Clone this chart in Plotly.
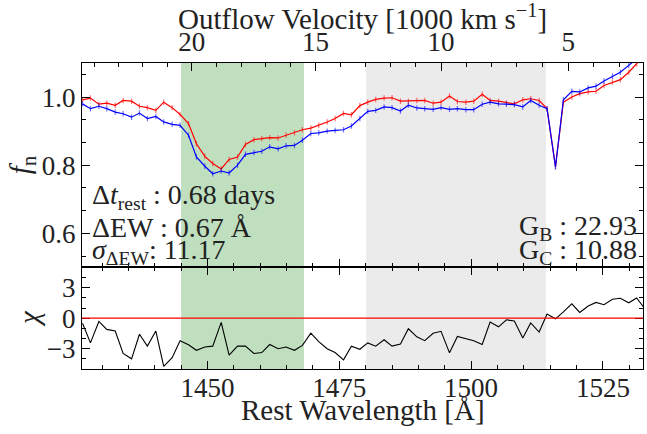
import plotly.graph_objects as go

# ---------------- data ----------------
wavelength = [1426.3, 1427.8, 1429.4, 1430.9, 1432.5, 1434.0, 1435.6, 1437.1, 1438.6, 1440.2,
              1441.7, 1443.3, 1444.8, 1446.4, 1447.9, 1449.5, 1451.0, 1452.6, 1454.1, 1455.7,
              1457.2, 1458.8, 1460.3, 1461.8, 1463.4, 1464.9, 1466.5, 1468.0, 1469.6, 1471.1,
              1472.7, 1474.2, 1475.8, 1477.3, 1478.9, 1480.4, 1481.9, 1483.5, 1485.0, 1486.6,
              1488.1, 1489.7, 1491.2, 1492.8, 1494.3, 1495.9, 1497.4, 1499.0, 1500.5, 1502.1,
              1503.6, 1505.2, 1506.7, 1508.2, 1509.8, 1511.3, 1512.9, 1514.4, 1516.0, 1517.5,
              1519.1, 1520.6, 1522.2, 1523.7, 1525.2, 1526.8, 1528.3, 1529.9, 1531.4, 1533.0]

flux_red = [0.992, 0.997, 0.979, 0.982, 0.976, 0.990, 0.988, 0.973, 0.969, 0.961,
            0.985, 0.969, 0.949, 0.922, 0.863, 0.826, 0.805, 0.789, 0.817, 0.824,
            0.861, 0.875, 0.878, 0.881, 0.880, 0.888, 0.895, 0.904, 0.909, 0.917,
            0.927, 0.937, 0.952, 0.948, 0.975, 0.985, 0.993, 0.997, 0.998, 0.988,
            0.988, 0.990, 0.990, 0.982, 0.985, 1.003, 0.987, 0.985, 0.988, 1.008,
            0.990, 0.988, 0.983, 0.980, 0.992, 0.995, 0.990, 0.966, 0.796, 0.985,
            1.000, 1.010, 1.015, 1.017, 1.034, 1.044, 1.051, 1.073, 1.098, 1.125]

flux_blue = [0.980, 0.966, 0.973, 0.966, 0.956, 0.951, 0.941, 0.953, 0.937, 0.943,
             0.927, 0.920, 0.917, 0.888, 0.824, 0.797, 0.775, 0.783, 0.777, 0.800,
             0.832, 0.837, 0.841, 0.854, 0.848, 0.857, 0.858, 0.873, 0.893, 0.895,
             0.900, 0.902, 0.904, 0.915, 0.937, 0.958, 0.961, 0.971, 0.969, 0.959,
             0.976, 0.968, 0.966, 0.964, 0.969, 0.964, 0.966, 0.963, 0.963, 0.979,
             0.985, 0.980, 0.979, 0.978, 0.971, 0.990, 0.976, 0.966, 0.795, 0.992,
             1.017, 1.015, 1.027, 1.032, 1.047, 1.061, 1.073, 1.093, 1.112, 1.140]

flux_err = 0.008

chi = [-0.5, -2.43, -0.32, -1.10, -1.26, -3.47, -4.00, -1.58, -2.75, -1.26,
       -4.74, -3.88, -2.21, -2.62, -3.16, -2.84, -2.75, -0.41, -3.63, -2.75,
       -2.75, -3.47, -3.38, -2.59, -3.00, -2.84, -3.16, -2.68, -1.48, -2.30,
       -3.00, -3.38, -4.10, -2.75, -3.06, -2.43, -2.75, -2.12, -2.75, -2.53,
       -1.04, -1.83, -2.21, -1.48, -1.29, -3.41, -1.80, -2.00, -2.21, -2.59,
       -0.38, -0.85, -0.16, -0.28, -1.96, -0.47, -1.36, 0.41, -0.06, 0.63,
       1.42, 0.57, 1.20, 1.55, 1.33, 1.86, 1.96, 1.52, 1.99, 0.90]

green_band = [1445.0, 1468.3]
gray_band = [1480.1, 1514.2]

wave_ticks = [1450, 1475, 1500, 1525]
flux_ticks = [0.6, 0.8, 1.0]
flux_ticklabels = ["0.6", "0.8", "1.0"]
chi_ticks = [-3, 0, 3]
chi_ticklabels = ["\u22123", "0", "3"]

# outflow velocity (1000 km/s) and where each lands on the wavelength axis
vel_major = [20, 15, 10, 5]
vel_major_wave = [1447.0, 1470.5, 1494.3, 1518.4]
vel_minor = [24, 23, 22, 21, 19, 18, 17, 16, 14, 13, 12, 11, 9, 8, 7, 6, 4, 3]
vel_minor_wave = [1428.5, 1433.1, 1437.7, 1442.4, 1451.7, 1456.4, 1461.0, 1465.8,
                  1475.2, 1479.9, 1484.7, 1489.5, 1499.1, 1503.9, 1508.7, 1513.6,
                  1523.3, 1528.2]

x_range = [1426.2, 1532.6]

FONT = "Liberation Serif, Times New Roman, serif"
TXT = "#222222"

fig = go.Figure()

# spectra (top panel)
fig.add_trace(go.Scatter(
    x=wavelength, y=flux_red, mode="lines", xaxis="x2", yaxis="y2",
    line=dict(color="#ff0000", width=1.2),
    error_y=dict(type="constant", value=flux_err, width=0, thickness=1.2,
                 color="rgba(255,0,0,0.55)"),
    showlegend=False, hoverinfo="skip"))
fig.add_trace(go.Scatter(
    x=wavelength, y=flux_blue, mode="lines", xaxis="x2", yaxis="y2",
    line=dict(color="#0000ff", width=1.2),
    error_y=dict(type="constant", value=flux_err, width=0, thickness=1.2,
                 color="rgba(0,0,255,0.55)"),
    showlegend=False, hoverinfo="skip"))

# chi (bottom panel)
fig.add_trace(go.Scatter(
    x=wavelength, y=chi, mode="lines", xaxis="x", yaxis="y",
    line=dict(color="black", width=1.1), showlegend=False, hoverinfo="skip"))

# invisible trace so the top velocity axis is drawn
fig.add_trace(go.Scatter(
    x=[vel_major_wave[0]], y=[1.0], xaxis="x3", yaxis="y2", mode="markers",
    marker=dict(opacity=0), showlegend=False, hoverinfo="skip"))

shapes = [
    dict(type="rect", xref="x", yref="paper", x0=green_band[0], x1=green_band[1],
         y0=0, y1=1, fillcolor="#bfdfbf", line=dict(width=0), layer="below"),
    dict(type="rect", xref="x", yref="paper", x0=gray_band[0], x1=gray_band[1],
         y0=0, y1=1, fillcolor="#ebebeb", line=dict(width=0), layer="below"),
    dict(type="line", xref="x domain", yref="y", x0=0, x1=1, y0=0, y1=0,
         line=dict(color="#ff0000", width=1.2)),
]

tickfont = dict(family=FONT, size=27, color=TXT)
common = dict(showgrid=False, zeroline=False, showline=True, linecolor="black",
              linewidth=1, ticks="inside", tickcolor="black", tickwidth=1,
              ticklen=8, tickfont=tickfont, automargin=False)

ann_font = dict(family=FONT, size=28, color=TXT)
annotations = [
    dict(text="Rest Wavelength [\u00c5]", xref="paper", yref="paper", x=0.5, y=-0.134,
         xanchor="center", yanchor="middle", showarrow=False,
         font=dict(family=FONT, size=29, color=TXT)),
    dict(text="Outflow Velocity [1000 km s<sup>\u22121</sup>]", xref="paper", yref="paper",
         x=0.5, y=1.15, xanchor="center", yanchor="middle", showarrow=False,
         font=dict(family=FONT, size=29, color=TXT)),
    dict(text="<i>f</i><sub>n</sub>", xref="paper", yref="paper", x=-0.107, y=0.666,
         xanchor="center", yanchor="middle", textangle=-90, showarrow=False,
         font=dict(family=FONT, size=29, color=TXT)),
    dict(text="<i>\u03c7</i>", xref="paper", yref="paper", x=-0.095, y=0.166,
         xanchor="center", yanchor="middle", textangle=-90, showarrow=False,
         font=dict(family=FONT, size=29, color=TXT)),
    dict(text="\u0394<i>t</i><sub>rest</sub> : 0.68 days", xref="paper", yref="paper",
         x=0.015, y=0.565, xanchor="left", yanchor="middle", showarrow=False, font=ann_font),
    dict(text="\u0394EW : 0.67 \u00c5", xref="paper", yref="paper",
         x=0.015, y=0.462, xanchor="left", yanchor="middle", showarrow=False, font=ann_font),
    dict(text="<i>\u03c3</i><sub>\u0394EW</sub>: 11.17", xref="paper", yref="paper",
         x=0.015, y=0.383, xanchor="left", yanchor="middle", showarrow=False, font=ann_font),
    dict(text="G<sub>B</sub> : 22.93", xref="paper", yref="paper",
         x=0.992, y=0.462, xanchor="right", yanchor="middle", showarrow=False, font=ann_font),
    dict(text="G<sub>C</sub> : 10.88", xref="paper", yref="paper",
         x=0.992, y=0.383, xanchor="right", yanchor="middle", showarrow=False, font=ann_font),
]

split = 0.332
fig.update_layout(
    width=647, height=434,
    margin=dict(l=82, r=4, t=63, b=65, autoexpand=False),
    paper_bgcolor="white", plot_bgcolor="white",
    font=dict(family=FONT, color=TXT),
    shapes=shapes, annotations=annotations,
    xaxis=dict(domain=[0, 1], anchor="y", range=x_range, tickmode="array",
               tickvals=wave_ticks, mirror="ticks", ticklabelstandoff=-5,
               minor=dict(dtick=5, tick0=1425, ticks="inside", ticklen=4,
                          tickcolor="black", tickwidth=1),
               **common),
    yaxis=dict(domain=[0, split], anchor="x", range=[-5, 5], tickmode="array",
               tickvals=chi_ticks, ticktext=chi_ticklabels, mirror="ticks",
               minor=dict(dtick=1, tick0=0, ticks="inside", ticklen=4,
                          tickcolor="black", tickwidth=1),
               **common),
    xaxis2=dict(domain=[0, 1], anchor="y2", range=x_range, matches="x",
                tickmode="array", tickvals=wave_ticks, showticklabels=False,
                mirror=False,
                minor=dict(dtick=5, tick0=1425, ticks="inside", ticklen=4,
                           tickcolor="black", tickwidth=1),
                **common),
    yaxis2=dict(domain=[split, 1], anchor="x2", range=[0.5, 1.1], tickmode="array",
                tickvals=flux_ticks, ticktext=flux_ticklabels, mirror="ticks",
                minor=dict(dtick=0.2 / 3, tick0=0.6, ticks="inside", ticklen=4,
                           tickcolor="black", tickwidth=1),
                **common),
    xaxis3=dict(overlaying="x2", side="top", anchor="y2", range=x_range,
                tickmode="array", tickvals=vel_major_wave,
                ticktext=[str(v) for v in vel_major], mirror=False,
                minor=dict(tickmode="array", tickvals=vel_minor_wave, ticks="inside",
                           ticklen=4, tickcolor="black", tickwidth=1),
                **common),
)

fig.write_html("out.html", config={"displayModeBar": False},
               post_script="document.body.style.margin='0px';")
